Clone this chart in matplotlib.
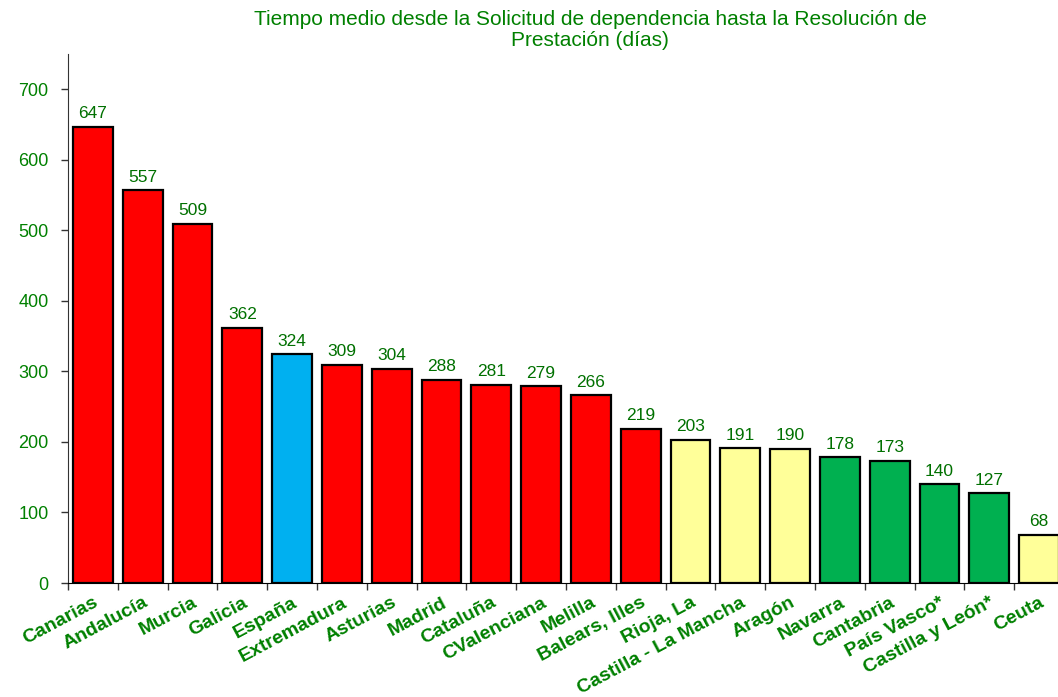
import matplotlib
matplotlib.use("Agg")
import matplotlib.pyplot as plt
import numpy as np

categories = ["Canarias", "Andalucía", "Murcia", "Galicia", "España", "Extremadura",
              "Asturias", "Madrid", "Cataluña", "CValenciana", "Melilla", "Balears, Illes",
              "Rioja, La", "Castilla - La Mancha", "Aragón", "Navarra", "Cantabria",
              "País Vasco*", "Castilla y León*", "Ceuta"]
values = [647, 557, 509, 362, 324, 309, 304, 288, 281, 279, 266, 219,
          203, 191, 190, 178, 173, 140, 127, 68]
groups = ["alto", "alto", "alto", "alto", "media", "alto", "alto", "alto", "alto", "alto",
          "alto", "alto", "medio", "medio", "medio", "bajo", "bajo", "bajo", "bajo", "medio"]
group_colors = {"alto": "#FF0000", "media": "#00B0F0", "medio": "#FFFF99", "bajo": "#00B050"}

title = "Tiempo medio desde la Solicitud de dependencia hasta la Resolución de\nPrestación (días)"
green = "#008000"
dark_green = "#007000"

plt.rcParams['font.family'] = ['Liberation Sans', 'DejaVu Sans']

W, H = 1058, 697
fig = plt.figure(figsize=(W / 100, H / 100), dpi=100)
# axes extends slightly past the right edge (last bar is clipped in the reference)
ax = fig.add_axes([68 / W, 1 - 583 / H, (1064 - 68) / W, (583 - 54) / H])

x = np.arange(len(categories))
bars = ax.bar(x, values, width=0.8, color=[group_colors[g] for g in groups],
              edgecolor="black", linewidth=1.6, zorder=2)
ax.bar_label(bars, labels=[str(v) for v in values], padding=4, color=dark_green,
             fontsize=12.5)

ax.set_xlim(-0.5, len(categories) - 0.5)
ax.set_ylim(0, 750)
ax.set_yticks(range(0, 701, 100))
ax.tick_params(axis='y', direction='out', length=5, width=1, colors='#333333',
               labelcolor=green, labelsize=13, pad=9)

ax.set_xticks(x)
ax.set_xticklabels(categories, rotation=28, ha='right', va='top',
                   rotation_mode='anchor', color=green, fontsize=14, fontweight='bold')
ax.tick_params(axis='x', which='major', length=0, pad=8)
ax.set_xticks(np.arange(-0.5, len(categories) - 0.5, 1.0), minor=True)
ax.tick_params(axis='x', which='minor', direction='out', length=5, width=1, colors='#333333')

for s in ['top', 'right']:
    ax.spines[s].set_visible(False)
ax.spines['left'].set_color('#333333')
ax.spines['bottom'].set_color('black')

fig.text(590 / W, 1 - 30 / H, title, ha='center', va='center', color=green,
         fontsize=15, linespacing=1.12)

fig.savefig("out.png", dpi=100)
